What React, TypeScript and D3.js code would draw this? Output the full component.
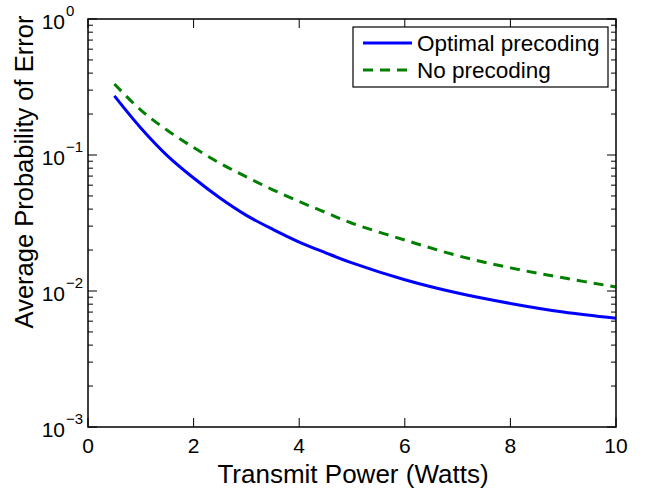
import React from "react";
import * as d3 from "d3";

const powerW = [0.5, 1, 1.5, 2, 2.5, 3, 3.5, 4, 4.5, 5, 6, 7, 8, 9, 10];
const optimalPe = [0.272, 0.158, 0.099, 0.0677, 0.0483, 0.0360, 0.0284, 0.0229, 0.0191, 0.0161, 0.0121, 0.00966, 0.0081, 0.0070, 0.0063];
const noPrecodingPe = [0.333, 0.214, 0.152, 0.1135, 0.0870, 0.0690, 0.0555, 0.0455, 0.0378, 0.0315, 0.0237, 0.0182, 0.0148, 0.0125, 0.0107];
const xTicks = [0, 2, 4, 6, 8, 10];
const yDecades = [0, -1, -2, -3];
const seriesNames = ["Optimal precoding", "No precoding"];

const FONT = "'Liberation Sans', Arial, Helvetica, sans-serif";

export default function App() {
  const W = 648, H = 494;
  const L = 88, R = 616, T = 19, B = 427;
  const x = d3.scaleLinear().domain([0, 10]).range([L, R]);
  const y = d3.scaleLog().domain([1e-3, 1]).range([B, T]);
  const line = d3
    .line<[number, number]>()
    .x((d) => x(d[0]))
    .y((d) => y(d[1]))
    .curve(d3.curveCatmullRom.alpha(0.5));
  const optPts = powerW.map((p, i) => [p, optimalPe[i]] as [number, number]);
  const noPts = powerW.map((p, i) => [p, noPrecodingPe[i]] as [number, number]);

  const minor: number[] = [];
  for (let e = -3; e < 0; e++) for (let k = 2; k <= 9; k++) minor.push(k * Math.pow(10, e));

  const ax = "#000";
  return (
    <svg width={W} height={H} style={{ position: "absolute", left: 0, top: 0, background: "#fff" }} fontFamily={FONT}>
      <rect x={0} y={0} width={W} height={H} fill="#fff" />
      <defs>
        <clipPath id="plotclip">
          <rect x={L} y={T} width={R - L} height={B - T} />
        </clipPath>
      </defs>
      <g clipPath="url(#plotclip)">
        <path d={line(noPts) ?? ""} fill="none" stroke="#008000" strokeWidth={3} strokeDasharray="10,7" />
        <path d={line(optPts) ?? ""} fill="none" stroke="#0000ff" strokeWidth={3} />
      </g>
      {/* x ticks */}
      {xTicks.map((t) => (
        <g key={"xt" + t}>
          <line x1={x(t)} x2={x(t)} y1={B} y2={B - 9} stroke={ax} strokeWidth={1} />
          <line x1={x(t)} x2={x(t)} y1={T} y2={T + 9} stroke={ax} strokeWidth={1} />
          <text x={x(t)} y={453} textAnchor="middle" fontSize={21} fill="#000">{t}</text>
        </g>
      ))}
      {/* y ticks */}
      {yDecades.map((e) => (
        <g key={"yt" + e}>
          <line x1={L} x2={L + 9} y1={y(Math.pow(10, e))} y2={y(Math.pow(10, e))} stroke={ax} strokeWidth={1} />
          <line x1={R} x2={R - 9} y1={y(Math.pow(10, e))} y2={y(Math.pow(10, e))} stroke={ax} strokeWidth={1} />
          <text x={65} y={y(Math.pow(10, e)) + 10} textAnchor="end" fontSize={21} fill="#000">10</text>
          <text x={66} y={y(Math.pow(10, e)) - 3} textAnchor="start" fontSize={15} fill="#000">{e === 0 ? "0" : "\u2212" + -e}</text>
        </g>
      ))}
      {minor.map((v, i) => (
        <g key={"mn" + i}>
          <line x1={L} x2={L + 5} y1={y(v)} y2={y(v)} stroke={ax} strokeWidth={1} />
          <line x1={R} x2={R - 5} y1={y(v)} y2={y(v)} stroke={ax} strokeWidth={1} />
        </g>
      ))}
      <rect x={L} y={T} width={R - L} height={B - T} fill="none" stroke={ax} strokeWidth={1.5} />
      {/* legend */}
      <rect x={353} y={27} width={255} height={60} fill="#fff" stroke={ax} strokeWidth={1.2} />
      <line x1={363} x2={412} y1={43} y2={43} stroke="#0000ff" strokeWidth={3} />
      <line x1={363} x2={412} y1={70} y2={70} stroke="#008000" strokeWidth={3} strokeDasharray="10,7" />
      <text x={417} y={51} fontSize={22.5} fill="#000">{seriesNames[0]}</text>
      <text x={417} y={78} fontSize={22.5} fill="#000">{seriesNames[1]}</text>
      {/* axis labels */}
      <text x={353} y={483} textAnchor="middle" fontSize={26} fill="#000">Transmit Power (Watts)</text>
      <text transform={`translate(33,172) rotate(-90)`} textAnchor="middle" fontSize={25.5} fill="#000">Average Probability of Error</text>
    </svg>
  );
}
